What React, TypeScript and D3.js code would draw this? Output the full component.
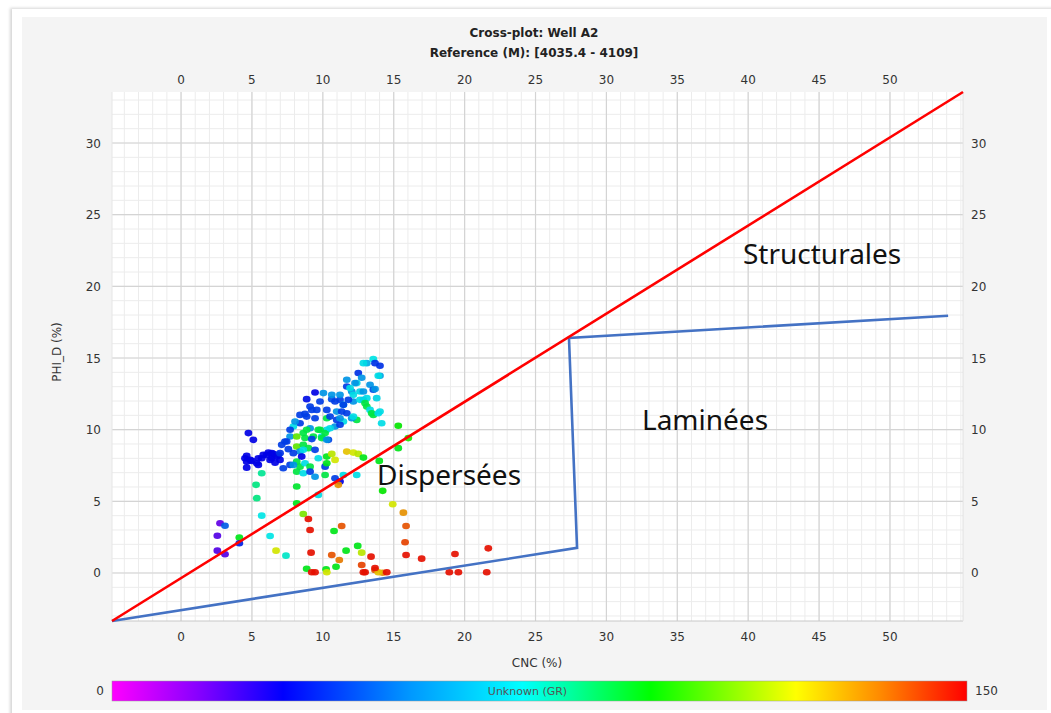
import React from "react";
import * as d3 from "d3";

// Cross-plot samples: neutron porosity (CNC), density porosity (PHI_D), gamma ray (GR)
const cncValues = [
  13.56, 14.03, 13.1, 12.5, 14.03, 12.74, 11.69, 12.39, 13.33, 13.56, 11.69, 12.04, 12.62, 13.8,
  9.45, 8.86, 10.04, 10.63, 11.21, 9.8, 11.45, 12.15, 12.86, 13.1, 14.03, 13.56, 12.39, 14.15,
  9.1, 9.57, 10.28, 10.98, 11.69, 12.04, 8.39, 8.86, 9.45, 10.28, 10.98, 11.45, 10.86, 10.28,
  9.8, 9.1, 8.39, 7.92, 8.62, 9.33, 9.92, 10.39, 7.69, 8.16, 7.45, 7.1, 8.16, 8.62, 8.98, 9.45,
  8.39, 7.92, 4.75, 5.1, 4.63, 4.63, 4.99, 5.45, 5.8, 6.16, 6.51, 6.86, 6.4, 6.98, 4.63, 5.34,
  5.69, 7.21, 7.69, 8.16, 8.39, 8.74, 9.1, 8.16, 8.62, 9.1, 9.45, 9.68, 10.28, 10.63, 10.86,
  10.16, 10.16, 10.86, 11.21, 11.45, 11.09, 9.68, 11.69, 12.15, 12.5, 12.86, 12.39, 14.22, 15.32,
  15.32, 16.03, 8.16, 5.29, 5.34, 8.16, 5.69, 8.62, 8.98, 9.1, 11.33, 10.79, 14.93, 15.68, 15.87,
  15.8, 15.87, 16.97, 2.75, 3.1, 2.56, 4.11, 4.11, 2.56, 3.1, 6.28, 6.7, 7.4, 9.17, 10.63, 11.64,
  12.46, 12.74, 13.4, 11.16, 10.93, 8.86, 9.22, 9.45, 10.23, 10.28, 12.74, 12.98, 13.68, 14.22,
  14.51, 21.67, 19.32, 21.56, 18.92, 19.56, 13.91, 13.68, 12.86, 13.98, 11.21, 8.74, 9.22, 8.04,
  8.86, 9.68, 7.69, 8.74, 9.22, 9.92, 7.33, 7.57, 8.62, 4.51, 4.87, 5.45, 6.04, 6.4, 6.75, 6.63,
  6.28, 6.98, 5.69, 8.51, 10.28, 7.92, 13.68, 12.86, 13.91, 12.27, 13.68, 11.92, 12.86, 11.21,
  12.15, 13.1, 10.63, 10.86, 11.8, 12.62, 12.98, 11.45, 13.33, 13.45, 13.91, 12.15, 11.21, 10.51,
  11.33, 10.16, 10.51, 10.28,
];

const phiValues = [
  14.92, 14.46, 14.64, 13.95, 13.76, 13.62, 13.48, 13.25, 13.13, 12.78, 13.01, 12.66, 12.66, 12.2,
  12.59, 12.13, 12.55, 12.13, 12.08, 11.96, 11.73, 11.96, 12.08, 11.61, 11.26, 11.03, 10.68, 10.45,
  11.61, 11.38, 11.38, 11.26, 11.15, 10.8, 11.03, 10.91, 10.8, 10.8, 10.68, 10.57, 10.22, 9.99,
  9.99, 10.1, 10.45, 10.22, 9.76, 9.52, 9.52, 9.29, 9.52, 9.52, 9.17, 8.94, 8.82, 8.94, 8.71, 8.59,
  8.47, 8.36, 9.76, 9.29, 8.17, 7.77, 7.82, 8.01, 8.24, 8.4, 8.31, 8.24, 8.01, 7.89, 7.35, 7.66,
  6.96, 7.31, 7.54, 7.77, 7.42, 7.66, 7.42, 7.07, 6.96, 7.07, 6.72, 8.01, 8.12, 8.31, 7.89,
  7.42, 6.84, 6.61, 6.38, 6.84, 6.15, 5.45, 8.47, 8.4, 8.31, 8.05, 6.84, 5.73, 10.27,
  8.71, 9.41, 6.03, 6.15, 5.22, 4.87, 4.0, 4.12, 3.77, 3.0, 3.28, 2.93, 4.8, 4.21, 3.28,
  2.14, 1.26, 1.0, 3.47, 3.3, 2.6, 2.47, 2.07, 1.56, 1.31, 2.58, 1.56, 1.21, 1.42, 1.26, 1.56,
  1.89, 1.42, 1.14, 0.91, 0.44, 0.3, 0.05, 0.05, 0.26, 0.05, 0.56, 0.05, 0.21, 0.02,
  0.05, 1.72, 1.33, 0.05, 0.05, 0.05, 0.05, 0.35, 0.05, 7.82, 10.34, 11.1, 11.38, 10.57,
  9.99, 9.99, 9.99, 9.41, 9.34, 9.41, 9.17, 8.64, 8.59, 8.01, 7.89, 7.54, 8.24, 8.36, 8.12, 7.7,
  7.89, 8.36, 8.01, 8.12, 7.66, 7.54, 14.64, 14.64, 13.76, 13.25, 12.83, 12.9, 12.66, 12.43,
  12.43, 12.2, 12.43, 11.96, 12.08, 12.08, 11.85, 11.73, 11.38, 11.15, 11.15, 10.91, 10.8, 10.91,
  11.26, 9.76, 10.1, 9.29,
];

const grValues = [
  72, 38, 60, 38, 58, 55, 55, 68, 55, 42, 40, 55, 68, 68,
  30, 32, 55, 42, 40, 40, 68, 55, 55, 88, 70, 88, 88, 70,
  40, 40, 40, 55, 40, 55, 40, 40, 40, 88, 40, 70, 55, 70,
  88, 55, 40, 70, 88, 88, 70, 40, 55, 105, 40, 40, 105, 88, 88, 40,
  55, 40, 30, 30, 30, 30, 30, 30, 30, 30, 30, 38, 30, 30, 30, 30,
  80, 40, 40, 88, 88, 70, 88, 88, 70, 40, 55, 70, 92, 115, 118,
  40, 88, 40, 30, 70, 132, 70, 125, 118, 115, 92, 70, 95, 95,
  92, 98, 90, 82, 82, 92, 72, 108, 148, 148, 140, 92, 118, 132, 140,
  142, 148, 148, 18, 45, 20, 92, 35, 20, 20, 72, 118, 75, 148, 140, 92,
  92, 115, 148, 135, 92, 92, 148, 148, 92, 118, 142, 148, 140, 132,
  148, 148, 148, 148, 148, 148, 125, 148, 148, 92, 40, 40, 40, 55,
  88, 88, 40, 88, 40, 88, 40, 40, 70, 30, 30, 30, 30, 30, 30, 30,
  30, 38, 30, 30, 92, 55, 38, 70, 70, 55, 55, 70, 55, 55,
  70, 70, 55, 40, 40, 70, 88, 40, 70, 88, 70, 70, 55, 40,
  40, 88, 70, 55,
];

// Zone boundary lines
const redLineCnc = [-4.87, 55.15];
const redLinePhi = [-3.35, 33.56];
const blueLineCnc = [-4.87, 27.93, 27.36, 54.1];
const bluePhi = [-3.35, 1.75, 16.4, 17.95];

const xTicks = [0, 5, 10, 15, 20, 25, 30, 35, 40, 45, 50];
const yTicks = [0, 5, 10, 15, 20, 25, 30];

const zoneLabels = ["Structurales", "Laminées", "Dispersées"];
const zoneCnc = [39.63, 32.51, 13.82];
const zonePhi = [21.58, 9.99, 6.15];

// GR colour ramp (fraction of 0..150)
const rampOffsets = [0, 0.1, 0.2, 0.35, 0.48, 0.63, 0.8, 0.9, 1];
const rampColors = ["#ff00ff", "#8800ff", "#0000ff", "#0099ff", "#00ffff", "#00ff00", "#ffff00", "#ff8800", "#ff0000"];
const grDomain = [0, 150];

const W = 1051;
const H = 713;
const plot = { left: 112, right: 963, top: 92, bottom: 621 };

export default function App() {
  const x = d3.scaleLinear().domain([-4.87, 55.15]).range([plot.left, plot.right]);
  const y = d3.scaleLinear().domain([-3.35, 33.56]).range([plot.bottom, plot.top]);
  const ramp = d3
    .scaleLinear<string>()
    .domain(rampOffsets.map((o) => grDomain[0] + o * (grDomain[1] - grDomain[0])))
    .range(rampColors)
    .interpolate(d3.interpolateRgb)
    .clamp(true);

  const minorX = d3.range(-4, 56, 1);
  const minorY = d3.range(-3, 34, 1);

  const line = d3
    .line<[number, number]>()
    .x((d) => x(d[0]))
    .y((d) => y(d[1]));

  const redPts = redLineCnc.map((c, i) => [c, redLinePhi[i]] as [number, number]);
  const bluePts = blueLineCnc.map((c, i) => [c, bluePhi[i]] as [number, number]);

  const font = "'DejaVu Sans', Verdana, sans-serif";
  const barX0 = 112;
  const barX1 = 967;

  return (
    <svg
      width={W}
      height={H}
      style={{ position: "absolute", left: 0, top: 0, display: "block" }}
      fontFamily={font}
    >
      <defs>
        <linearGradient id="grRamp" x1="0" x2="1" y1="0" y2="0">
          {rampOffsets.map((o, i) => (
            <stop key={i} offset={o} stopColor={rampColors[i]} />
          ))}
        </linearGradient>
        <filter id="soft" x="-5%" y="-5%" width="110%" height="110%">
          <feGaussianBlur stdDeviation="1.5" />
        </filter>
        <clipPath id="plotClip">
          <rect x={plot.left} y={plot.top} width={plot.right - plot.left} height={plot.bottom - plot.top} />
        </clipPath>
      </defs>

      <rect x={0} y={0} width={W} height={H} fill="#ffffff" />
      {/* card shadow + panel */}
      <rect x={10} y={8} width={W - 8} height={H - 4} fill="#d6d6d6" filter="url(#soft)" />
      <rect x={12} y={9} width={W - 10} height={H - 6} fill="#ffffff" />
      <rect x={22} y={17} width={1025} height={693} fill="#f4f4f4" />

      {/* plot background */}
      <rect x={plot.left} y={plot.top} width={plot.right - plot.left} height={plot.bottom - plot.top} fill="#ffffff" />

      <g clipPath="url(#plotClip)">
        {minorX.map((v) => (
          <line key={"mx" + v} x1={x(v)} x2={x(v)} y1={plot.top} y2={plot.bottom} stroke="#ececec" strokeWidth={1} />
        ))}
        {minorY.map((v) => (
          <line key={"my" + v} x1={plot.left} x2={plot.right} y1={y(v)} y2={y(v)} stroke="#ececec" strokeWidth={1} />
        ))}
        {xTicks.map((v) => (
          <line key={"Mx" + v} x1={x(v)} x2={x(v)} y1={plot.top} y2={plot.bottom} stroke="#d4d4d4" strokeWidth={1.2} />
        ))}
        {yTicks.map((v) => (
          <line key={"My" + v} x1={plot.left} x2={plot.right} y1={y(v)} y2={y(v)} stroke="#d4d4d4" strokeWidth={1.2} />
        ))}
      </g>
      <line x1={plot.left} x2={plot.right} y1={plot.bottom} y2={plot.bottom} stroke="#c8c8c8" />
      <line x1={plot.left} x2={plot.left} y1={plot.top} y2={plot.bottom} stroke="#e6e6e6" />
      <line x1={plot.right} x2={plot.right} y1={plot.top} y2={plot.bottom} stroke="#e0e0e0" />

      {/* data points */}
      <g clipPath="url(#plotClip)">
        {cncValues.map((c, i) => (
          <ellipse
            key={i}
            cx={x(c)}
            cy={y(phiValues[i])}
            rx={3.9}
            ry={3.3}
            fill={d3.color(ramp(grValues[i]))!.darker(0.3).formatHex()}
            opacity={0.92}
          />
        ))}
      </g>

      {/* zone boundaries */}
      <path d={line(bluePts)!} fill="none" stroke="#4472c4" strokeWidth={2.6} strokeLinejoin="miter" />
      <path d={line(redPts)!} fill="none" stroke="#ff0000" strokeWidth={2.6} />

      {zoneLabels.map((t, i) => (
        <text key={t} x={x(zoneCnc[i])} y={y(zonePhi[i])} fontSize={28} fill="#111" fontFamily="'Noto Sans', 'Open Sans', sans-serif">
          {t}
        </text>
      ))}

      {/* tick labels */}
      {xTicks.map((v) => (
        <g key={"tx" + v} fontSize={12} fill="#333" textAnchor="middle">
          <text x={x(v)} y={84}>{v}</text>
          <text x={x(v)} y={641}>{v}</text>
        </g>
      ))}
      {yTicks.map((v) => (
        <g key={"ty" + v} fontSize={12} fill="#333">
          <text x={101} y={y(v) + 4.5} textAnchor="end">{v}</text>
          <text x={971} y={y(v) + 4.5} textAnchor="start">{v}</text>
        </g>
      ))}

      {/* titles */}
      <text x={534} y={37} textAnchor="middle" fontSize={12} fontWeight="bold" fill="#222">
        Cross-plot: Well A2
      </text>
      <text x={534} y={57} textAnchor="middle" fontSize={12} fontWeight="bold" fill="#222">
        Reference (M): [4035.4 - 4109]
      </text>
      <text x={537} y={667} textAnchor="middle" fontSize={12} fill="#333">
        CNC (%)
      </text>
      <text transform="translate(61,352) rotate(-90)" textAnchor="middle" fontSize={12} fill="#333">
        PHI_D (%)
      </text>

      {/* colour bar */}
      <rect x={barX0} y={681} width={barX1 - barX0} height={20} fill="url(#grRamp)" stroke="#999" strokeWidth={0.5} />
      <text x={(barX0 + barX1) / 2 - 12} y={695} textAnchor="middle" fontSize={11} fill="#555">
        Unknown (GR)
      </text>
      <text x={104} y={695} textAnchor="end" fontSize={12} fill="#333">
        {grDomain[0]}
      </text>
      <text x={975} y={695} textAnchor="start" fontSize={12} fill="#333">
        {grDomain[1]}
      </text>
    </svg>
  );
}
